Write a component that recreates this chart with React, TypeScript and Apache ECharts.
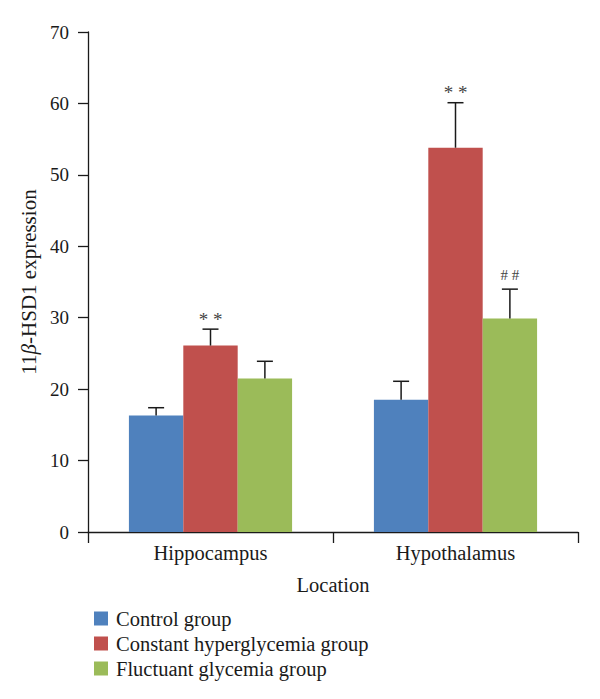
import React, { useEffect, useRef } from "react";
import * as echarts from "echarts";

const categories = ["Hippocampus", "Hypothalamus"];
const seriesNames = ["Control group", "Constant hyperglycemia group", "Fluctuant glycemia group"];
const controlMean = [16.3, 18.5];
const controlUpper = [17.4, 21.1];
const constantMean = [26.1, 53.8];
const constantUpper = [28.4, 60.1];
const fluctuantMean = [21.5, 29.9];
const fluctuantUpper = [23.9, 34.0];
const controlMarks = ["", ""];
const constantMarks = ["**", "**"];
const fluctuantMarks = ["", "##"];
const yTicks = [0, 10, 20, 30, 40, 50, 60, 70];

const colors = ["#4F81BD", "#C0504D", "#9BBB59"];
const FONT = "Liberation Serif";
const BAR_FRAC = 0.222;
const TXT = "#1a1a1a";

export default function App() {
  const ref = useRef<HTMLDivElement>(null);
  useEffect(() => {
    if (!ref.current) return;
    const chart = echarts.init(ref.current, null, { renderer: "svg" });
    const means = [controlMean, constantMean, fluctuantMean];
    const uppers = [controlUpper, constantUpper, fluctuantUpper];
    const marks = [controlMarks, constantMarks, fluctuantMarks];

    const barSeries = seriesNames.map((name, i) => ({
      name,
      type: "bar",
      data: means[i],
      barWidth: BAR_FRAC * 100 + "%",
      barGap: "0%",
      itemStyle: { color: colors[i] },
      z: 2,
    }));

    const errSeries = seriesNames.map((name, i) => ({
      type: "custom",
      name: name + " err",
      data: uppers[i].map((u, k) => [k, u]),
      z: 5,
      clip: false,
      silent: true,
      renderItem: (params: any, api: any) => {
        const k = api.value(0);
        const upper = api.value(1);
        const mean = means[i][params.dataIndex];
        const top = api.coord([k, upper]);
        const base = api.coord([k, mean]);
        const band = api.size([1, 0])[0];
        const x = top[0] + (i - 1) * band * BAR_FRAC;
        const children: any[] = [
          {
            type: "line",
            shape: { x1: x, y1: base[1], x2: x, y2: top[1] },
            style: { stroke: TXT, lineWidth: 1.5 },
          },
          {
            type: "line",
            shape: { x1: x - 8, y1: top[1], x2: x + 8, y2: top[1] },
            style: { stroke: TXT, lineWidth: 1.5 },
          },
        ];
        const m = marks[i][params.dataIndex];
        if (m) {
          const isStar = m[0] === "*";
          children.push({
            type: "text",
            x,
            y: top[1] - (isStar ? 10 : 14),
            style: {
              text: m.split("").join(" "),
              fontFamily: FONT,
              fontSize: isStar ? 19 : 15,
              fill: "#444",
              align: "center",
              verticalAlign: "middle",
            },
          });
        }
        return { type: "group", children };
      },
    }));

    chart.setOption({
      animation: false,
      backgroundColor: "#fff",
      textStyle: { fontFamily: FONT },
      grid: { left: 88, right: 22, top: 32, bottom: 167, containLabel: false },
      legend: {
        data: seriesNames,
        orient: "vertical",
        left: 89,
        top: 603,
        icon: "rect",
        itemWidth: 14,
        itemHeight: 14,
        itemGap: 4,
        selectedMode: false,
        textStyle: { fontFamily: FONT, fontSize: 20.5, color: TXT, padding: [0, 0, 0, 3] },
      },
      xAxis: {
        type: "category",
        data: categories,
        name: "Location",
        nameLocation: "middle",
        nameGap: 42,
        nameTextStyle: { fontFamily: FONT, fontSize: 20.5, color: TXT },
        axisLine: { lineStyle: { color: TXT, width: 1.3 } },
        axisTick: { show: true, length: 11, inside: false, lineStyle: { color: TXT, width: 1.3 } },
        axisLabel: { margin: 10, fontFamily: FONT, fontSize: 20.5, color: TXT },
      },
      yAxis: {
        type: "value",
        min: yTicks[0],
        max: yTicks[yTicks.length - 1],
        interval: 10,
        name: "11{i|β}-HSD1 expression",
        nameLocation: "middle",
        nameGap: 49,
        nameTextStyle: {
          fontFamily: FONT,
          fontSize: 21,
          color: TXT,
          rich: { i: { fontFamily: FONT, fontSize: 21, fontStyle: "italic", color: TXT } },
        },
        axisLine: { show: true, lineStyle: { color: TXT, width: 1.3 } },
        axisTick: { show: true, length: 10, inside: false, lineStyle: { color: TXT, width: 1.3 } },
        axisLabel: { margin: 19, fontFamily: FONT, fontSize: 19, color: TXT },
        splitLine: { show: false },
      },
      series: [...barSeries, ...errSeries],
    });
    return () => chart.dispose();
  }, []);
  return <div ref={ref} style={{ width: 600, height: 699, position: "absolute", left: 0, top: 0 }} />;
}
